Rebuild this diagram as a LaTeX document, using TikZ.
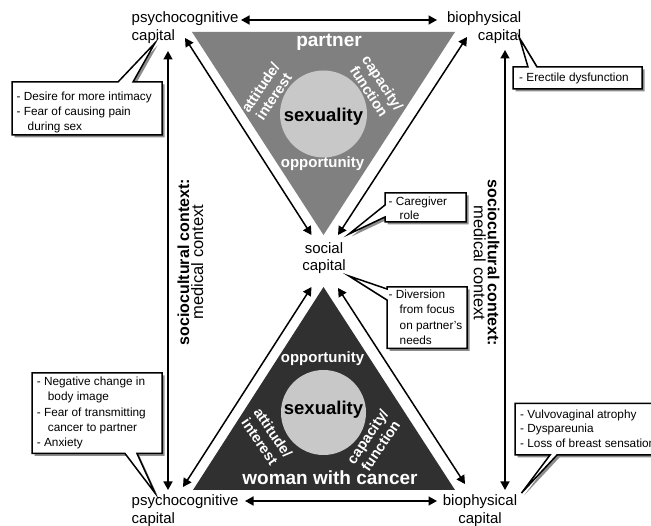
\documentclass[tikz,border=0pt]{standalone}
\usepackage{fontspec}
\setmainfont{Liberation Sans}
\usetikzlibrary{arrows.meta,shadows}
\definecolor{partnergray}{RGB}{128,128,128}
\definecolor{womandark}{RGB}{48,48,48}
\definecolor{circlegray}{RGB}{200,200,200}
\definecolor{shadowgray}{RGB}{140,140,140}
\begin{document}
\begin{tikzpicture}[x=1pt,y=-1pt,
  cornerlbl/.style={inner sep=0pt, font=\fontsize{15}{18.5}\selectfont},
  inlbl/.style={inner sep=0pt, text=white, font=\bfseries\fontsize{15}{17}\selectfont},
  rotlbl/.style={inner sep=0pt, text=white, align=center, font=\bfseries\fontsize{14.5}{16}\selectfont},
  titlelbl/.style={inner sep=0pt, text=white, font=\bfseries\fontsize{19}{22}\selectfont},
  sexlbl/.style={inner sep=0pt, text=black, font=\bfseries\fontsize{18.5}{22}\selectfont},
  ctxlbl/.style={inner sep=0pt, align=center, font=\fontsize{16.5}{14}\selectfont},
  dbl/.style={line width=1.5pt, {Triangle[length=8.5pt,width=9pt]}-{Triangle[length=8.5pt,width=9pt]}},
  callbox/.style={draw=black, line width=1.5pt, fill=white, line join=miter,
     drop shadow={shadow xshift=2.5pt, shadow yshift=-2.5pt, fill=shadowgray, opacity=1}},
  calltext/.style={inner sep=0pt, align=left, font=\fontsize{11.8}{15.1}\selectfont},
]
\useasboundingbox (0,0) rectangle (651,526);
\clip (0,0) rectangle (651,526);

% triangles
\coordinate (PT1) at (192,32);
\coordinate (PT2) at (455,32);
\coordinate (PT3) at (323.5,235);
\coordinate (WT1) at (323.5,287);
\coordinate (WT2) at (455,490);
\coordinate (WT3) at (193,490);
\fill[partnergray] (PT1) -- (PT2) -- (PT3) -- cycle;
\fill[womandark] (WT1) -- (WT2) -- (WT3) -- cycle;
\fill[circlegray] (323.5,114) circle (43.5);
\fill[circlegray] (323.5,412.5) circle (42.5);

% inner labels, partner
\node[titlelbl, anchor=base] (partner) at (329,46.5) {partner};
\node[sexlbl, anchor=base] (sexP) at (323.5,121.5) {sexuality};
\node[inlbl, anchor=base] (oppP) at (322.5,168) {opportunity};
\node[rotlbl, rotate=56] (attP) at (267,92) {attitude/\\interest};
\node[rotlbl, rotate=-57] (capP) at (376,87) {capacity/\\function};

% inner labels, woman
\node[inlbl, anchor=base] (oppW) at (322.5,363) {opportunity};
\node[sexlbl, anchor=base] (sexW) at (323.5,415) {sexuality};
\node[rotlbl, rotate=-56] (attW) at (266.5,437) {attitude/\\interest};
\node[rotlbl, rotate=56] (capW) at (374,441) {capacity/\\function};
\node[titlelbl, anchor=base] (woman) at (330,485) {woman with cancer};

% corner labels
\node[cornerlbl, align=left, anchor=north west] (psyT) at (131.5,11.2) {psychocognitive\\capital};
\node[cornerlbl, align=right, anchor=north east] (bioT) at (521.5,11.2) {biophysical\\capital};
\node[cornerlbl, align=left, anchor=north west, font=\fontsize{15}{17.5}\selectfont] (psyB) at (131.5,494.7) {psychocognitive\\capital};
\node[cornerlbl, align=center, anchor=north, font=\fontsize{15}{17.5}\selectfont] (bioB) at (480,494.7) {biophysical\\capital};
\node[cornerlbl, align=center, anchor=north, font=\fontsize{15}{17}\selectfont] (soc) at (324,242.2) {social\\capital};

% context labels
\node[ctxlbl, rotate=90] (ctxL) at (190.5,262) {{\bfseries\fontsize{16}{14}\selectfont sociocultural context:}\\medical context};
\node[ctxlbl, rotate=-90] (ctxR) at (486.5,263) {{\bfseries\fontsize{16}{14}\selectfont sociocultural context:}\\medical context};

% arrow end points
\coordinate (hT1) at (241,20);  \coordinate (hT2) at (437,20);
\coordinate (hB1) at (245,501); \coordinate (hB2) at (437,501);
\coordinate (dA1) at (185,38);  \coordinate (dA2) at (311.5,235);
\coordinate (dB1) at (467,37);  \coordinate (dB2) at (338,235);
\coordinate (dC1) at (311.5,287); \coordinate (dC2) at (183,487);
\coordinate (dD1) at (338,288); \coordinate (dD2) at (465,484);
\coordinate (vL1) at (168,51);  \coordinate (vL2) at (168,490);
\coordinate (vR1) at (505,50);  \coordinate (vR2) at (505,490);

\draw[dbl] (hT1) -- (hT2);
\draw[dbl] (hB1) -- (hB2);
\draw[dbl] (dA1) -- (dA2);
\draw[dbl] (dB1) -- (dB2);
\draw[dbl] (dC1) -- (dC2);
\draw[dbl] (dD1) -- (dD2);
\draw[dbl] (vL1) -- (vL2);
\draw[dbl] (vR1) -- (vR2);

% callouts
\draw[callbox] (12,82) -- (118,82) -- (155,43) -- (133,82) -- (162,82) -- (162,135) -- (12,135) -- cycle;
\node[calltext, anchor=north west] (cTL) at (16.5,92) {- Desire for more intimacy\\- Fear of causing pain\\\hspace*{11pt}during sex};

\draw[callbox] (513,67) -- (528,67) -- (519.5,38) -- (537,67) -- (642,67) -- (642,89) -- (513,89) -- cycle;
\node[calltext, anchor=north west] (cTR) at (519,73.1) {- Erectile dysfunction};

\draw[callbox] (385,193) -- (466,193) -- (466,222) -- (385,222) -- (385,217) -- (349,234) -- (385,205) -- cycle;
\node[calltext, anchor=north west, font=\fontsize{11.8}{14}\selectfont] (cCG) at (388.5,196.4) {- Caregiver\\\hspace*{11pt}role};

\draw[callbox] (387,287) -- (467,287) -- (467,348.5) -- (387,348.5) -- (387,300) -- (349,276) -- (387,289) -- cycle;
\node[calltext, anchor=north west, font=\fontsize{11.8}{15.3}\selectfont] (cDV) at (388.5,289.7) {- Diversion\\\hspace*{11pt}from focus\\\hspace*{11pt}on partner's\\\hspace*{11pt}needs};

\draw[callbox] (32,373) -- (162,373) -- (162,453.5) -- (137,453.5) -- (155,493) -- (125,453.5) -- (32,453.5) -- cycle;
\node[calltext, anchor=north west] (cBL) at (36.7,377.1) {- Negative change in\\\hspace*{11pt}body image\\- Fear of transmitting\\\hspace*{11pt}cancer to partner\\- Anxiety};

\draw[callbox] (515,403.5) -- (700,403.5) -- (700,455) -- (557,455) -- (521.5,493) -- (550,455) -- (515,455) -- cycle;
\node[calltext, anchor=north west, font=\fontsize{11.8}{14.3}\selectfont] (cBR) at (520,409.7) {- Vulvovaginal atrophy\\- Dyspareunia\\- Loss of breast sensation};
\end{tikzpicture}
\end{document}
